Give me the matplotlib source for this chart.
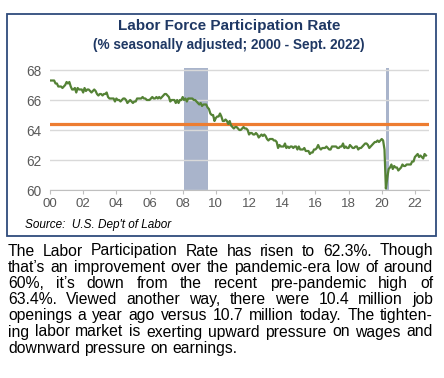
import numpy as np
import matplotlib
matplotlib.use("Agg")
import matplotlib.pyplot as plt
from matplotlib.patches import Rectangle

plt.rcParams['font.family'] = ['Liberation Sans', 'DejaVu Sans']

# monthly labor force participation rate, Jan 2000 - Sept 2022
lfpr = [
    67.3, 67.3, 67.3, 67.3, 67.1, 67.1, 66.9, 66.9, 66.9, 66.8, 66.9, 67.0,
    67.2, 67.1, 67.2, 66.9, 66.7, 66.7, 66.8, 66.5, 66.8, 66.7, 66.7, 66.7,
    66.5, 66.8, 66.6, 66.7, 66.7, 66.6, 66.5, 66.6, 66.7, 66.6, 66.4, 66.3,
    66.4, 66.4, 66.3, 66.4, 66.4, 66.5, 66.2, 66.1, 66.1, 66.1, 66.1, 65.9,
    66.1, 66.0, 66.0, 65.9, 66.0, 66.1, 66.1, 66.0, 65.8, 65.9, 66.0, 65.9,
    65.8, 65.9, 65.9, 66.1, 66.1, 66.1, 66.1, 66.2, 66.1, 66.1, 66.0, 66.0,
    66.0, 66.1, 66.2, 66.1, 66.1, 66.2, 66.1, 66.2, 66.1, 66.2, 66.3, 66.4,
    66.4, 66.3, 66.2, 65.9, 66.0, 66.0, 66.0, 65.8, 66.0, 65.8, 66.0, 66.0,
    66.2, 66.0, 66.1, 65.9, 66.1, 66.1, 66.1, 66.1, 66.0, 66.0, 65.9, 65.8,
    65.7, 65.8, 65.6, 65.7, 65.7, 65.7, 65.5, 65.4, 65.1, 65.0, 65.0, 64.6,
    64.8, 64.9, 64.9, 65.1, 64.9, 64.6, 64.6, 64.7, 64.6, 64.4, 64.6, 64.3,
    64.2, 64.1, 64.2, 64.2, 64.1, 64.0, 64.0, 64.1, 64.2, 64.1, 64.1, 64.0,
    63.7, 63.8, 63.8, 63.7, 63.7, 63.8, 63.7, 63.5, 63.6, 63.7, 63.6, 63.7,
    63.6, 63.4, 63.3, 63.4, 63.4, 63.4, 63.3, 63.3, 63.2, 62.8, 63.0, 62.9,
    62.9, 62.9, 63.1, 62.8, 62.9, 62.8, 62.9, 62.9, 62.8, 62.9, 62.9, 62.7,
    62.9, 62.7, 62.7, 62.7, 62.8, 62.6, 62.6, 62.6, 62.4, 62.5, 62.5, 62.7,
    62.7, 62.8, 63.0, 62.8, 62.7, 62.8, 62.8, 62.8, 62.9, 62.8, 62.7, 62.7,
    62.9, 62.9, 62.9, 62.9, 62.8, 62.8, 62.9, 62.9, 63.1, 62.8, 62.9, 62.8,
    62.8, 63.0, 62.9, 62.8, 62.8, 62.9, 62.9, 62.7, 62.8, 62.8, 62.9, 63.0,
    63.1, 63.1, 63.0, 62.8, 62.9, 63.0, 63.1, 63.2, 63.2, 63.3, 63.2, 63.3,
    63.4, 63.3, 62.7, 60.1, 60.8, 61.4, 61.5, 61.7, 61.4, 61.6, 61.5, 61.5,
    61.3, 61.4, 61.5, 61.7, 61.6, 61.6, 61.7, 61.7, 61.7, 61.7, 61.9, 61.9,
    62.2, 62.3, 62.4, 62.2, 62.3, 62.2, 62.1, 62.4, 62.3,
]
months = 2000 + np.arange(len(lfpr)) / 12.0

avg_level = 64.4
recessions = [(2008.08, 2009.5), (2020.24, 2020.46)]
xticks = list(range(2000, 2023, 2))
yticks = [60, 62, 64, 66, 68]

body = [
    "The Labor Participation Rate has risen to 62.3%. Though",
    "that\u2019s an improvement over the pandemic-era low of around",
    "60%, it\u2019s down from the recent pre-pandemic high of",
    "63.4%. Viewed another way, there were 10.4 million job",
    "openings a year ago versus 10.7 million today. The tighten-",
    "ing labor market is exerting upward pressure on wages and",
    "downward pressure on earnings.",
]

W, H = 444, 378
fig = plt.figure(figsize=(W / 100, H / 100), dpi=100)

# frame around the chart
fig.patches.append(Rectangle((7 / W, 1 - 236 / H), 429 / W, 222 / H,
                             transform=fig.transFigure, fill=False,
                             edgecolor='#2f4b7c', linewidth=1.3))

fig.text(229 / W, 1 - 26 / H, "Labor Force Participation Rate", ha='center', va='center',
         fontsize=11, fontweight='bold', color='#1f3864')
fig.text(229 / W, 1 - 45 / H, "(% seasonally adjusted; 2000 - Sept. 2022)", ha='center',
         va='center', fontsize=9.8, fontweight='bold', color='#1f3864')

ymax = 68.15
ax = fig.add_axes([50 / W, 1 - 190 / H, 379 / W, (190 - 70 + 15 * (ymax - 68)) / H])
ax.set_xlim(2000, 2022.85)
ax.set_ylim(60, ymax)

for a, b in recessions:
    ax.axvspan(a, b, color='#a9b4cb', lw=0, zorder=1)
ax.axhline(avg_level, color='#ed7d31', lw=2.3, zorder=3)
ax.plot(months, lfpr, color='#548235', lw=1.6, zorder=4)

ax.set_yticks(yticks)
ax.set_xticks(xticks)
ax.set_xticklabels(['%02d' % (t - 2000) for t in xticks])
ax.grid(axis='y', color='#d9d9d9', lw=1, zorder=0)
for s in ['left', 'right', 'top']:
    ax.spines[s].set_visible(False)
ax.spines['bottom'].set_color('#bfbfbf')
ax.tick_params(axis='y', length=0, labelsize=9.8, labelcolor='#595959', pad=6)
ax.tick_params(axis='x', length=3, color='#bfbfbf', direction='out', labelsize=9.5,
               labelcolor='#595959', pad=3)

fig.text(25 / W, 1 - 225 / H, "Source:  U.S. Dep't of Labor", ha='left', va='center',
         fontsize=8.5, style='italic', color='black')

# justified paragraph under the chart
renderer = fig.canvas.get_renderer()
left, right = 8, 433
base = 255.5
step = 16.2
fs = 11.3
for i, line in enumerate(body):
    words = line.split(' ')
    y = 1 - (base + i * step) / H
    objs = [fig.text(0, y, w, fontsize=fs, va='baseline', ha='left', color='black')
            for w in words]
    widths = [o.get_window_extent(renderer).width for o in objs]
    if i < len(body) - 1 and len(words) > 1:
        gap = (right - left - sum(widths)) / (len(words) - 1)
    else:
        t1 = fig.text(0, 0, 'a a', fontsize=fs)
        t2 = fig.text(0, 0, 'a', fontsize=fs)
        gap = t1.get_window_extent(renderer).width - 2 * t2.get_window_extent(renderer).width
        t1.remove()
        t2.remove()
    x = left
    for o, w in zip(objs, widths):
        o.set_x(x / W)
        x += w + gap

fig.savefig('out.png', dpi=100)
